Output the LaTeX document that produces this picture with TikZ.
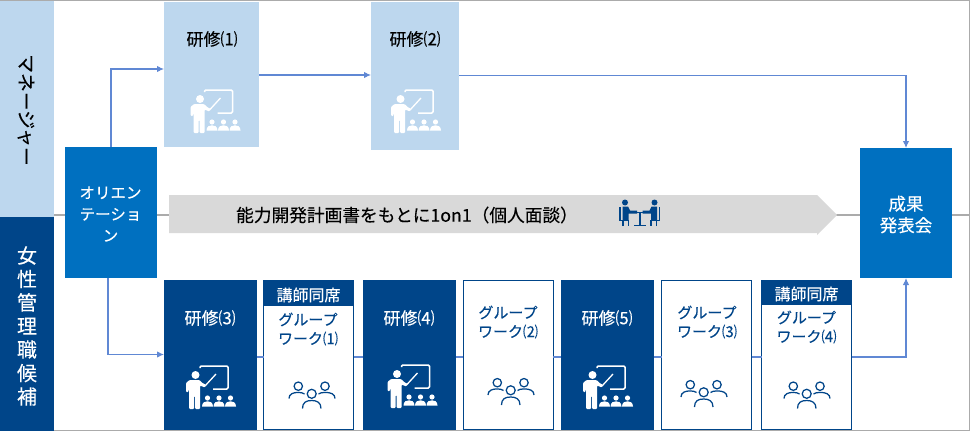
\documentclass[tikz,border=0pt]{standalone}
\usepackage{fontspec}
\setmainfont{Noto Sans CJK JP}[FakeBold=0.25]
\usetikzlibrary{arrows.meta}
\definecolor{lightb}{HTML}{BDD7EE}
\definecolor{navy}{HTML}{004589}
\definecolor{midb}{HTML}{0070C0}
\definecolor{linkb}{HTML}{6088D4}
\definecolor{grayb}{HTML}{D9D9D9}
\definecolor{frameg}{HTML}{ABABAB}
\newcommand{\fs}[1]{\fontsize{#1}{#1}\selectfont}
\tikzset{
 x=1pt,y=-1pt,
 box/.style={anchor=north west,inner sep=0pt,outer sep=0pt,minimum width=#1},
 light/.style={fill=lightb},
 dark/.style={fill=navy},
 outlined/.style={fill=white,draw=navy,line width=1.2pt},
 mid/.style={fill=midb,text=white,align=center,font=\fs{15.5}},
 lab/.style={inner sep=0pt,align=center,font=\fs{15}},
 kens/.style={inner sep=0pt,font=\fs{17}},
 koshi/.style={inner sep=0pt,text=white,font=\fs{16}},
 link/.style={draw=linkb,line width=1.1pt},
 linka/.style={link,-{Latex[length=7pt,width=6.5pt]}},
 frameline/.style={draw=frameg,line width=1.2pt},
 teacher/.pic={
  \draw[pic actions,fill=none,line width=1.5pt,rounded corners=1.2pt] (14,3) -- (14,1) -- (42,1) -- (42,24) -- (27,24);
  \fill[pic actions] (9.5,10) circle (4);
  \fill[pic actions,rounded corners=1pt] (0,27) -- (0,18) -- (3.5,15) -- (13.5,15) -- (17,18.5) -- (20,19.5) -- (19,22.5) -- (14,20.5) -- (14,44) -- (9.2,44) -- (9.2,31) -- (8,31) -- (8,44) -- (3.2,44) -- (3.2,21) -- (2.5,27) -- cycle;
  \draw[pic actions,line width=1.3pt] (19,21) -- (30,9);
  \foreach \u in {21.5,33,44.5}{
   \fill[pic actions] (\u,33) circle (2.6);
   \fill[pic actions] (\u-5.5,41.5) .. controls (\u-5.5,37) and (\u-2,36.3) .. (\u,36.3) .. controls (\u+2,36.3) and (\u+5.5,37) .. (\u+5.5,41.5) -- cycle;
  }
 },
 people/.pic={
  \draw[pic actions,fill=none,line width=1.25pt]
   (10.3,5.7) circle (4.2) (37,5.7) circle (4.2) (23.7,13.3) circle (4.5)
   (1,18) .. controls (1,13.5) and (5,11.9) .. (10.3,11.9) .. controls (13,11.9) and (15,12.5) .. (16.5,13.5)
   (47,18) .. controls (47,13.5) and (43,11.9) .. (37,11.9) .. controls (34,11.9) and (32,12.5) .. (30.5,13.5)
   (14.5,28) .. controls (14.5,22) and (18,20) .. (23.7,20) .. controls (29,20) and (33,22) .. (33,28);
 }
}
\begin{document}
\begin{tikzpicture}
\useasboundingbox (0,0) rectangle (970,431);
% frame
\draw[frameline] (0,0.5) -- (970,0.5);
\draw[frameline] (0,430.3) -- (970,430.3);
\draw[frameline] (969.4,0) -- (969.4,431);
\draw[frameline] (54,215) -- (970,215);
% side bands
\node[box=54pt,light,minimum height=216pt] (mgr) at (0,1) {};
\node[box=54pt,dark,minimum height=214pt] (cand) at (0,217) {};
\node[rotate=-90,inner sep=0pt,font=\fs{18.8}] (mgrt) at (26,110) {マネージャー};
\node[inner sep=0pt,align=center,text=white,font=\fs{20}] (candt) at (27,326) {女\\[3.5pt]性\\[3.5pt]管\\[3.5pt]理\\[3.5pt]職\\[3.5pt]候\\[3.5pt]補};
% boxes top
\node[box=95pt,light,minimum height=145pt] (k1) at (164,2) {};
\node[box=88pt,light,minimum height=148pt] (k2) at (371,2) {};
% orientation, result
\node[box=91.5pt,mid,minimum height=131pt] (ori) at (65,147) {};
\node[inner sep=0pt,align=center,text=white,font=\fs{15.5}] (orit) at (110.5,214) {オリエン\\[6pt]テーショ\\[6pt]ン};
\node[box=92pt,mid,minimum height=130pt] (res) at (860,148) {};
\node[inner sep=0pt,align=center,text=white,font=\fs{17.5}] (rest) at (906,214.5) {成果\\[4pt]発表会};
% big arrow
\fill[grayb] (169,195) -- (817,195) -- (837,215) -- (817,235) -- (817,233) -- (169,233) -- cycle;
\node[inner sep=0pt,font=\fs{17.7}] (iv) at (407,215) {能力開発計画書をもとに1on1（個人面談）};
% meeting icon
\begin{scope}[navy]
 \fill (625,202.5) circle (3) (654.5,202.5) circle (3);
 \fill (622.5,206.5) -- (628,206.5) -- (630,210.5) -- (637,210.5) -- (637,213.5) -- (628.5,213.5) -- (628.5,220) -- (622.5,220) -- cycle;
 \fill (657,206.5) -- (651.5,206.5) -- (649.5,210.5) -- (642.5,210.5) -- (642.5,213.5) -- (651,213.5) -- (651,220) -- (657,220) -- cycle;
 \draw[line width=1.4pt] (620,207) -- (620,220.5) -- (628.5,220.5) -- (628.5,226) (623,226) -- (623,221);
 \draw[line width=1.4pt] (659.5,207) -- (659.5,220.5) -- (651,220.5) -- (651,226) (656.5,226) -- (656.5,221);
 \draw[line width=1.8pt] (630,212.5) -- (649.5,212.5) (639.7,212.5) -- (639.7,225.5) (634,225.5) -- (646,225.5);
\end{scope}
% bottom row
\node[box=93pt,dark,minimum height=150pt] (k3) at (164,280) {};
\node[box=90pt,outlined,minimum height=148.5pt] (g1) at (263.6,280.6) {};
\fill[navy] (g1.north west) rectangle (354,306);
\node[box=93pt,dark,minimum height=150pt] (k4) at (363,280) {};
\node[box=90pt,outlined,minimum height=148.5pt] (g2) at (463.4,280.6) {};
\node[box=93pt,dark,minimum height=150pt] (k5) at (561,280) {};
\node[box=90pt,outlined,minimum height=148.5pt] (g3) at (661.6,280.6) {};
\node[box=90pt,outlined,minimum height=148.5pt] (g4) at (761.6,280.6) {};
\fill[navy] (g4.north west) rectangle (852,305);
% connectors
\coordinate (lv) at (0,357);
\coordinate (ty) at (0,75);
\coordinate (a1) at (111,69);
\coordinate (a2) at (108,354.5);
\coordinate (a3) at (906,75.5);
\coordinate (a4) at (906,357);
\draw[linka] (a1 |- ori.north) -- (a1) -- (a1 -| k1.west);
\draw[linka] (k1.east |- ty) -- (k2.west |- ty);
\draw[linka] (k2.east |- a3) -- (a3) -- (a3 |- res.north);
\draw[linka] (a2 |- ori.south) -- (a2) -- (a2 -| k3.west);
\draw[link] (k3.east |- lv) -- (g1.west |- lv);
\draw[link] (g1.east |- lv) -- (k4.west |- lv);
\draw[link] (k4.east |- lv) -- (g2.west |- lv);
\draw[link] (g2.east |- lv) -- (k5.west |- lv);
\draw[link] (k5.east |- lv) -- (g3.west |- lv);
\draw[link] (g3.east |- lv) -- (g4.west |- lv);
\draw[linka] (g4.east |- lv) -- (a4) -- (a4 |- res.south);
% labels
\node[kens] (t1) at (212,39) {研修⑴};
\node[kens] (t2) at (415,39) {研修⑵};
\node[kens,text=white] (t3) at (210,318) {研修⑶};
\node[kens,text=white] (t4) at (409,318) {研修⑷};
\node[kens,text=white] (t5) at (607,318) {研修⑸};
\node[koshi] (h1) at (308.5,295) {講師同席};
\node[koshi] (h4) at (806.5,294) {講師同席};
\node[lab,text=navy] (w1) at (308,329) {グループ\\[4pt]ワーク⑴};
\node[lab,text=navy] (w2) at (508,322) {グループ\\[4pt]ワーク⑵};
\node[lab,text=navy] (w3) at (707,322) {グループ\\[4pt]ワーク⑶};
\node[lab,text=navy] (w4) at (806.5,327) {グループ\\[4pt]ワーク⑷};
% icons
\pic[white] at (190.5,89) {teacher};
\pic[white] at (391,89) {teacher};
\pic[white] at (186,365) {teacher};
\pic[white] at (387.5,364) {teacher};
\pic[white] at (583,365) {teacher};
\pic[navy] at (288,380.5) {people};
\pic[navy] at (487,377) {people};
\pic[navy] at (680,379) {people};
\pic[navy] at (783,380.5) {people};
\end{tikzpicture}
\end{document}
